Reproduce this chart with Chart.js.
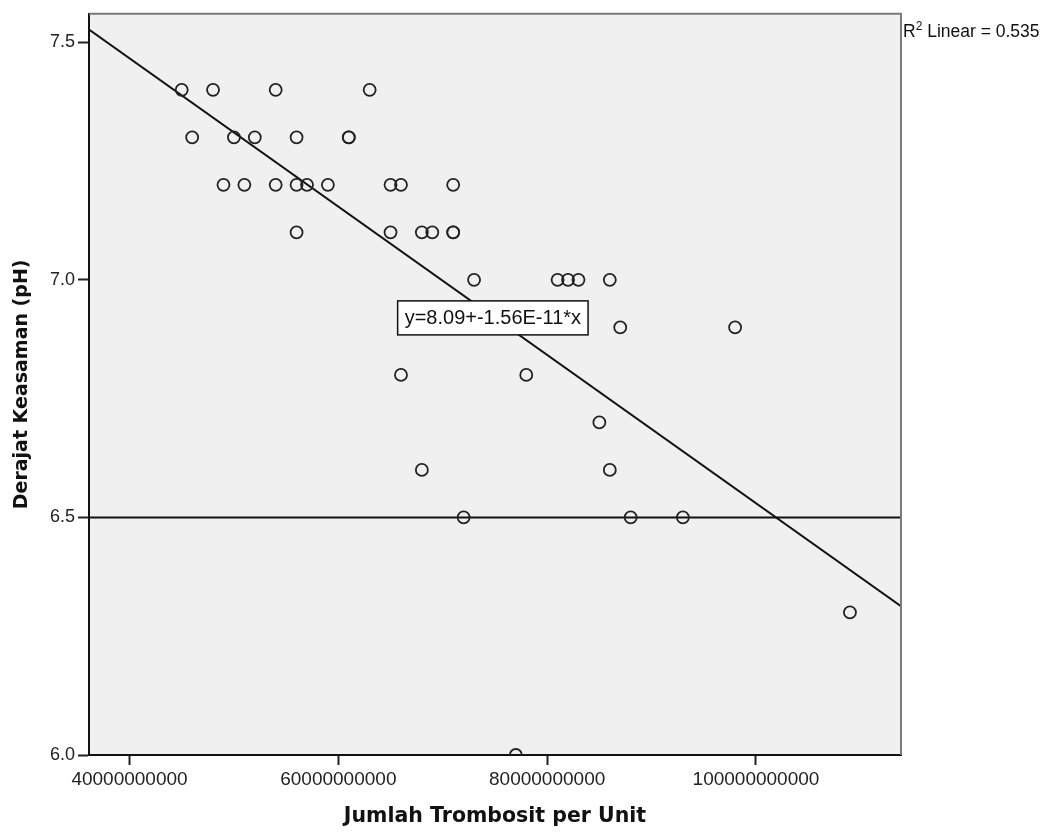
<!DOCTYPE html>
<html>
<head>
<meta charset="utf-8">
<script src="https://cdn.jsdelivr.net/npm/chart.js@4.4.1/dist/chart.umd.min.js"></script>
<style>
  html, body { margin: 0; padding: 0; background: #fff; }
  #wrap { width: 1055px; height: 832px; position: relative; }
</style>
</head>
<body>
<div id="wrap"><canvas id="grafikph" width="1055" height="832"></canvas></div>
<script>
// data
var trombosit = [45e9, 46e9, 48e9, 49e9, 50e9, 51e9, 52e9, 54e9, 54e9, 56e9, 56e9, 56e9, 57e9, 59e9,
  61e9, 61e9, 63e9, 65e9, 65e9, 66e9, 66e9, 68e9, 68e9, 69e9, 71e9, 71e9, 71e9, 72e9, 73e9,
  77e9, 78e9, 81e9, 82e9, 83e9, 85e9, 86e9, 86e9, 87e9, 88e9, 93e9, 98e9, 109e9];
var phValues = [7.4, 7.3, 7.4, 7.2, 7.3, 7.2, 7.3, 7.4, 7.2, 7.3, 7.2, 7.1, 7.2, 7.2,
  7.3, 7.3, 7.4, 7.2, 7.1, 7.2, 6.8, 7.1, 6.6, 7.1, 7.2, 7.1, 7.1, 6.5, 7.0,
  6.0, 6.8, 7.0, 7.0, 7.0, 6.7, 7.0, 6.6, 6.9, 6.5, 6.5, 6.9, 6.3];

var xMin = 36.12e9, xMax = 113.89e9;
var yMin = 6.0, yMax = 7.56;
var xTicks = [40e9, 60e9, 80e9, 100e9];
var yTicks = [6.0, 6.5, 7.0, 7.5];

// fit line y=8.09+-1.56E-11*x, ends read at the plot edges
var fitX = [xMin, xMax];
var fitY = [7.527, 6.313];
var refX = [xMin, xMax];
var refY = [6.5, 6.5];

var eqLabel = 'y=8.09+-1.56E-11*x';
var eqPos = { x: 74.8e9, y: 6.92 };

function pairs(xs, ys) {
  return xs.map(function (v, i) { return { x: v, y: ys[i] }; });
}

var plotBg = {
  id: 'plotBg',
  beforeDraw: function (chart) {
    var a = chart.chartArea, c = chart.ctx;
    c.save();
    c.fillStyle = '#f0f0f0';
    c.fillRect(a.left, a.top, a.right - a.left, a.bottom - a.top);
    c.restore();
  },
  afterDraw: function (chart) {
    var a = chart.chartArea, c = chart.ctx;
    c.save();
    // top and right frame in grey
    c.strokeStyle = '#7a7a7a';
    c.lineWidth = 2;
    c.beginPath();
    c.moveTo(a.left, a.top);
    c.lineTo(a.right, a.top);
    c.lineTo(a.right, a.bottom);
    c.stroke();
    // equation box
    var sx = chart.scales.x, sy = chart.scales.y;
    var cx = sx.getPixelForValue(eqPos.x), cy = sy.getPixelForValue(eqPos.y);
    c.font = '20px "Liberation Sans", Arial, sans-serif';
    var w = c.measureText(eqLabel).width + 14, h = 34;
    c.fillStyle = '#fff';
    c.fillRect(cx - w / 2, cy - h / 2, w, h);
    c.strokeStyle = '#111';
    c.lineWidth = 1.5;
    c.strokeRect(cx - w / 2, cy - h / 2, w, h);
    c.fillStyle = '#111';
    c.textAlign = 'center';
    c.textBaseline = 'middle';
    c.fillText(eqLabel, cx, cy + 1);
    // R2 note
    c.textAlign = 'left';
    c.textBaseline = 'alphabetic';
    var tx = a.right + 2, ty = a.top + 23;
    c.font = '17.5px "Liberation Sans", Arial, sans-serif';
    c.fillText('R', tx, ty);
    tx += c.measureText('R').width;
    c.font = '12px "Liberation Sans", Arial, sans-serif';
    c.fillText('2', tx, ty - 7);
    tx += c.measureText('2').width;
    c.font = '17.5px "Liberation Sans", Arial, sans-serif';
    c.fillText(' Linear = 0.535', tx, ty);
    c.restore();
  }
};

var ctx = document.getElementById('grafikph').getContext('2d');
var grafikph = new Chart(ctx, {
  type: 'scatter',
  data: {
    datasets: [{
      label: 'Derajat Keasaman',
      data: pairs(trombosit, phValues),
      pointStyle: 'circle',
      pointRadius: 6,
      pointHoverRadius: 6,
      borderWidth: 1.8,
      borderColor: '#222',
      backgroundColor: 'rgba(0,0,0,0)',
      clip: 0
    }, {
      type: 'line',
      label: 'fit',
      data: pairs(fitX, fitY),
      borderColor: '#111',
      borderWidth: 2,
      pointRadius: 0,
      fill: false
    }, {
      type: 'line',
      label: 'ref',
      data: pairs(refX, refY),
      borderColor: '#111',
      borderWidth: 2,
      pointRadius: 0,
      fill: false
    }]
  },
  options: {
    responsive: false,
    animation: false,
    devicePixelRatio: 1,
    layout: { padding: { top: 13, right: 154, left: 0, bottom: 0 } },
    scales: {
      x: {
        type: 'linear',
        min: xMin,
        max: xMax,
        afterBuildTicks: function (axis) { axis.ticks = xTicks.map(function (v) { return { value: v }; }); },
        afterFit: function (axis) { axis.height = 77; },
        ticks: {
          font: { family: '"Liberation Sans", Arial, sans-serif', size: 19 },
          color: '#222',
          padding: 3,
          maxRotation: 0,
          callback: function (v) { return String(v); }
        },
        grid: { drawOnChartArea: false, drawTicks: true, tickLength: 10, color: '#222', tickWidth: 2 },
        border: { display: true, color: '#111', width: 2 },
        title: {
          display: true,
          text: 'Jumlah Trombosit per Unit',
          font: { family: '"DejaVu Sans", sans-serif', size: 20.5, weight: 'bold' },
          color: '#111',
          padding: { top: 0, bottom: 3 }
        }
      },
      y: {
        min: yMin,
        max: yMax,
        afterBuildTicks: function (axis) { axis.ticks = yTicks.map(function (v) { return { value: v }; }); },
        afterFit: function (axis) { axis.width = 89; },
        ticks: {
          font: { family: '"Liberation Sans", Arial, sans-serif', size: 18 },
          color: '#222',
          padding: 3,
          callback: function (v) { return v.toFixed(1); }
        },
        grid: { drawOnChartArea: false, drawTicks: true, tickLength: 11, color: '#222', tickWidth: 2 },
        border: { display: true, color: '#111', width: 2 },
        title: {
          display: true,
          text: 'Derajat Keasaman (pH)',
          font: { family: '"DejaVu Sans", sans-serif', size: 19, weight: 'bold' },
          color: '#111',
          padding: { top: 11, bottom: 0 }
        }
      }
    },
    plugins: {
      legend: { display: false },
      tooltip: { enabled: false }
    }
  },
  plugins: [plotBg]
});
</script>
</body>
</html>
